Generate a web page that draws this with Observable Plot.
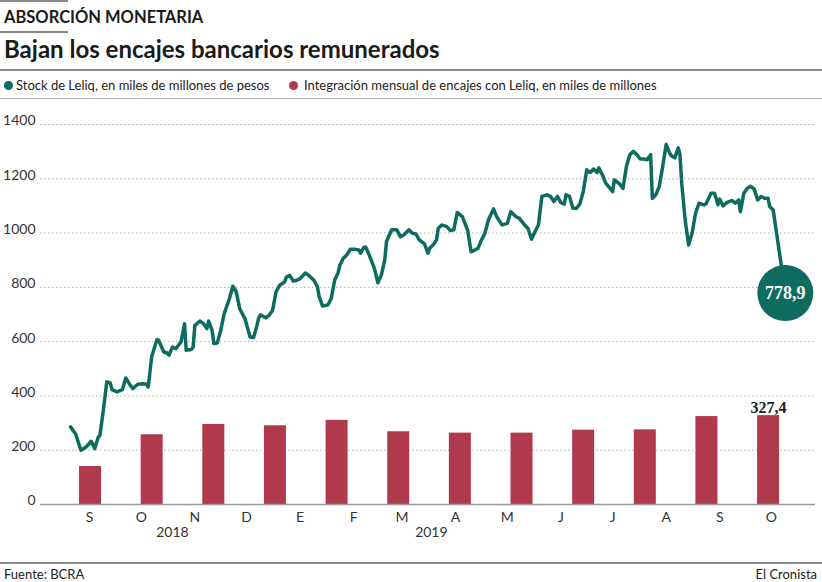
<!DOCTYPE html>
<html><head><meta charset="utf-8">
<script src="https://cdn.jsdelivr.net/npm/d3@7"></script>
<script src="https://cdn.jsdelivr.net/npm/@observablehq/plot@0.6"></script>
<style>
body{margin:0;background:#fff;font-family:Lato,"Open Sans",sans-serif;color:#222;}
#wrap{position:relative;width:822px;height:582px;overflow:hidden;background:#fff;}
.abs{position:absolute;line-height:1;white-space:nowrap;}
.rule{position:absolute;left:0;background:#8a8a8a;}
.dot{position:absolute;width:9px;height:9px;border-radius:50%;}
#chart svg{position:absolute;left:0;top:0;}
</style></head>
<body><div id="wrap">
<div class="rule" style="top:0;width:68px;height:2px"></div>
<div class="abs" style="left:4px;top:9px;font-size:16.5px;font-weight:700;color:#1a1a1a">ABSORCIÓN MONETARIA</div>
<div class="rule" style="top:31px;width:68px;height:2px"></div>
<div class="abs" style="left:4px;top:37px;font-size:24px;font-weight:700;color:#1a1a1a">Bajan los encajes bancarios remunerados</div>
<div class="rule" style="top:69px;width:822px;height:2px"></div>
<div class="rule" style="top:98px;width:822px;height:1px;background:#b0b0b0"></div>
<div id="chart" class="abs" style="left:0;top:100px;width:822px;height:455px"></div>
<div class="rule" style="top:562px;width:822px;height:2px"></div>
<div class="abs" style="left:4px;top:568px;font-size:13px;color:#222">Fuente: BCRA</div>
<div class="abs" style="right:5px;top:568px;font-size:13px;color:#222">El Cronista</div>
</div>
<script>
// ---- Datos ----
const verde = "#0d6b5f";
const rojo = "#b0394e";

const leyenda = [
  {texto: "Stock de Leliq, en miles de millones de pesos", color: verde},
  {texto: "Integración mensual de encajes con Leliq, en miles de millones", color: rojo}
];

// Stock de Leliq: [días desde 1-sep-2018, miles de millones]
const stockLeliq = [
  [3,286],[6,259],[9,200],[12,212],[15,233],[17,206],[19,247],[20,255],[22,347],[24,452],
  [26,448],[27,423],[30,415],[33,423],[35,466],[37,445],[39,427],[42,443],[45,445],[47,443],
  [48,433],[50,544],[53,607],[54,605],[57,562],[59,558],[60,550],[62,580],[64,574],[67,599],
  [69,666],[70,568],[73,571],[74,580],[75,660],[78,676],[80,666],[82,648],[83,676],[85,642],
  [86,593],[88,595],[90,642],[92,703],[95,758],[97,804],[99,783],[101,721],[104,685],[107,617],
  [109,615],[111,660],[112,688],[113,699],[116,688],[118,697],[120,715],[122,783],[124,807],[127,820],
  [128,838],[130,844],[132,823],[134,826],[136,832],[139,853],[141,844],[144,826],[146,802],[147,766],
  [149,731],[152,735],[154,759],[156,827],[158,854],[159,882],[161,907],[163,919],[165,940],[168,940],
  [170,938],[171,926],[173,948],[174,948],[176,919],[179,870],[181,817],[183,845],[185,901],[186,969],
  [189,1012],[192,1012],[194,987],[196,993],[199,1012],[201,999],[203,997],[205,975],[208,960],[210,926],
  [211,944],[213,956],[215,975],[216,1018],[218,1030],[221,1024],[223,1009],[225,1012],[227,1076],[230,1060],
  [233,1011],[235,931],[237,937],[239,944],[241,974],[243,999],[245,1048],[248,1089],[250,1058],[253,1030],
  [256,1036],[258,1079],[261,1060],[263,1054],[266,1030],[268,1017],[270,977],[272,1005],[274,1030],[276,1135],
  [279,1141],[281,1135],[283,1116],[285,1135],[287,1112],[289,1107],[290,1141],[292,1135],[294,1091],[296,1091],
  [298,1107],[300,1153],[302,1233],[304,1223],[306,1236],[308,1223],[309,1240],[311,1215],[313,1184],[317,1153],
  [318,1196],[321,1181],[323,1165],[325,1246],[327,1289],[329,1301],[331,1289],[333,1273],[335,1273],[337,1270],
  [339,1289],[340,1128],[342,1141],[344,1172],[346,1246],[348,1326],[350,1295],[351,1285],[353,1277],[355,1314],
  [356,1289],[357,1184],[359,1048],[361,956],[363,999],[365,1073],[367,1110],[370,1104],[371,1107],[374,1147],
  [376,1147],[378,1104],[379,1125],[381,1100],[383,1112],[386,1120],[388,1110],[390,1122],[391,1079],[393,1147],
  [395,1165],[397,1172],[399,1162],[401,1122],[403,1135],[405,1128],[407,1128],[408,1098],[410,1085],[417,778.9]
];

// Integración mensual de encajes con Leliq
const mesesBarras = ["sep-18","oct-18","nov-18","dic-18","ene-19","feb-19","mar-19","abr-19","may-19","jun-19","jul-19","ago-19"];
const encajes = [140, 257, 295, 290, 310, 268, 263, 263, 274, 275, 324, 327.4];

// Ejes
const yTicks = [0, 200, 400, 600, 800, 1000, 1200, 1400];
const fechasMeses = ["2018-09-15","2018-10-15","2018-11-15","2018-12-15","2019-01-15","2019-02-15","2019-03-15",
  "2019-04-15","2019-05-15","2019-06-15","2019-07-15","2019-08-15","2019-09-15","2019-10-15"];
const inicialesMes = ["E","F","M","A","M","J","J","A","S","O","N","D"];
const anios = [{anio: "2018", fecha: "2018-11-02"}, {anio: "2019", fecha: "2019-04-01"}];

// ---- Construcción ----
const origen = Date.UTC(2018, 8, 1);
const diaAFecha = d => new Date(origen + d * 864e5);
const serie = stockLeliq.map(([d, v]) => ({fecha: diaAFecha(d), valor: v}));
const ultimo = serie[serie.length - 1];
const barras = mesesBarras.map((m, i) => ({mes: m, valor: encajes[i]}));
const fmt = v => v.toFixed(1).replace(".", ",");

// leyenda
const wrapEl = document.getElementById("wrap");
const legPos = [{dot: 4, txt: 16}, {dot: 289, txt: 304}];
leyenda.forEach((l, i) => {
  const d = document.createElement("div");
  d.className = "dot"; d.style.left = legPos[i].dot + "px"; d.style.top = "81px"; d.style.background = l.color;
  wrapEl.appendChild(d);
  const t = document.createElement("div");
  t.className = "abs"; t.style.left = legPos[i].txt + "px"; t.style.top = "78.5px";
  t.style.fontSize = "13px"; t.style.color = "#222"; t.textContent = l.texto;
  wrapEl.appendChild(t);
});

const W = 822, H = 455, mT = 24, mB = 51, mL = 40, mR = 7;
const base = {width: W, height: H, marginTop: mT, marginBottom: mB, marginLeft: mL, marginRight: mR};

const fondo = Plot.plot({
  ...base,
  style: {background: "transparent", fontFamily: "Lato"},
  x: {domain: mesesBarras, range: [39.4, 818.7], padding: 0.643, round: false, axis: null},
  y: {domain: [0, 1400], axis: null},
  marks: [
    Plot.ruleY(yTicks.filter(t => t > 0), {stroke: "#aaa", strokeDasharray: "1.5,2.5", strokeWidth: 1}),
    Plot.barY(barras, {x: "mes", y: "valor", fill: rojo}),
    Plot.ruleY([0], {stroke: "#999", strokeWidth: 1.5}),
    Plot.text([barras[barras.length - 1]], {x: "mes", y: "valor", text: d => fmt(d.valor), lineAnchor: "bottom", dy: -3,
      fontFamily: "Liberation Serif", fontWeight: "bold", fontSize: 16, fill: "#222"})
  ]
});

const frente = Plot.plot({
  ...base,
  style: {background: "transparent", fontFamily: "Lato", fontSize: "14px", color: "#333"},
  x: {type: "utc", domain: [diaAFecha(-14.4), diaAFecha(434.5)]},
  y: {domain: [0, 1400]},
  marks: [
    Plot.axisY(yTicks, {tickSize: 0, tickPadding: 5, dy: -3.5, fontSize: 14, fill: "#333", label: null,
      tickFormat: d => String(d)}),
    Plot.axisX(fechasMeses.map(s => new Date(s)), {tickSize: 0, tickPadding: 8, fontSize: 14, fill: "#333", label: null,
      tickFormat: d => inicialesMes[d.getUTCMonth()]}),
    Plot.text(anios, {x: d => new Date(d.fecha), text: "anio", frameAnchor: "bottom", dy: 32.5, fontSize: 14, fill: "#333"}),
    Plot.line(serie, {x: "fecha", y: "valor", stroke: verde, strokeWidth: 3.5, strokeLinejoin: "round"}),
    Plot.dot([ultimo], {x: "fecha", y: "valor", r: 28, fill: verde}),
    Plot.text([ultimo], {x: "fecha", y: "valor", text: d => fmt(d.valor), fill: "white",
      fontFamily: "Liberation Serif", fontWeight: "bold", fontSize: 18})
  ]
});

const chart = document.getElementById("chart");
chart.appendChild(fondo);
chart.appendChild(frente);
</script>
</body></html>
